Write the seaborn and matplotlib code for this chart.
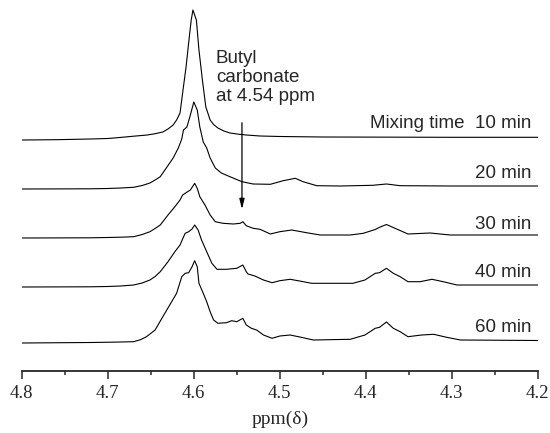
import pandas as pd
import matplotlib
matplotlib.use("Agg")
import matplotlib.pyplot as plt
from matplotlib.ticker import MultipleLocator
import seaborn as sns

# spectra: ppm and height above each trace's baseline
ppm_10 = [4.800, 4.760, 4.720, 4.700, 4.690, 4.670, 4.654, 4.645, 4.636, 4.630, 4.624,
          4.620, 4.616, 4.613, 4.609, 4.606, 4.603, 4.601, 4.597, 4.594, 4.590, 4.586,
          4.581, 4.577, 4.572, 4.565, 4.558, 4.548, 4.539, 4.523, 4.500, 4.450, 4.300,
          4.200]
int_10 = [0, 0.3, 1, 1.5, 2.2, 3.8, 5, 6.3, 8, 11, 15,
          20, 27, 47, 73, 97, 120, 130, 120, 90, 60, 33,
          20, 15.5, 12, 9, 7, 5.8, 5, 4, 3.5, 3, 2.7,
          2.7]

ppm_20 = [4.800, 4.720, 4.700, 4.685, 4.670, 4.660, 4.651, 4.645, 4.639, 4.632, 4.624,
          4.618, 4.614, 4.612, 4.608, 4.604, 4.600, 4.596, 4.593, 4.589, 4.585, 4.581,
          4.575, 4.568, 4.558, 4.544, 4.531, 4.511, 4.496, 4.482, 4.473, 4.457, 4.430,
          4.392, 4.376, 4.360, 4.300, 4.200]
int_20 = [0, 0.2, 0.5, 1, 1.7, 3.5, 6, 9, 12.3, 21, 31,
          41, 50, 59, 62, 74, 87, 79, 62, 47, 41, 31,
          21, 16, 12.3, 7.3, 5, 4.7, 8.3, 10.7, 7.3, 3.3, 3,
          3.7, 5, 3.3, 3, 3]

ppm_30 = [4.800, 4.720, 4.700, 4.685, 4.670, 4.660, 4.651, 4.645, 4.639, 4.630, 4.622,
          4.616, 4.613, 4.609, 4.604, 4.601, 4.599, 4.596, 4.593, 4.587, 4.581, 4.575,
          4.566, 4.554, 4.546, 4.543, 4.539, 4.531, 4.523, 4.511, 4.500, 4.486, 4.469,
          4.453, 4.418, 4.403, 4.389, 4.384, 4.376, 4.366, 4.351, 4.325, 4.302, 4.267,
          4.200]
int_30 = [0, 0.2, 0.5, 0.8, 1.3, 3.5, 6.3, 9.5, 13, 23, 31.3,
          38, 43, 45.3, 48, 52, 54.7, 49.7, 41.3, 33, 23, 16.3,
          14.7, 14, 14.7, 16.3, 12.3, 9.7, 8.7, 4, 6.3, 8, 5.3,
          3, 3, 4.7, 8.5, 10.7, 13.5, 9.7, 4, 5, 3, 3,
          3]

ppm_40 = [4.800, 4.720, 4.700, 4.685, 4.670, 4.660, 4.651, 4.645, 4.639, 4.630, 4.622,
          4.616, 4.612, 4.610, 4.606, 4.602, 4.599, 4.595, 4.591, 4.585, 4.579, 4.573,
          4.562, 4.550, 4.543, 4.539, 4.537, 4.529, 4.519, 4.509, 4.500, 4.488, 4.477,
          4.463, 4.415, 4.401, 4.389, 4.384, 4.376, 4.368, 4.360, 4.351, 4.337, 4.323,
          4.310, 4.294, 4.200]
int_40 = [0, 0.2, 0.5, 1, 2, 4, 7, 10.5, 15.3, 25.3, 35.3,
          42, 50, 53.7, 55.3, 58, 62, 57, 47, 35.3, 23.7, 17.7,
          17.7, 18.7, 22, 15.3, 13, 11, 7, 4.3, 6.3, 7.7, 6,
          3.7, 3.7, 7, 13.7, 14.3, 18.7, 13.7, 10.3, 5.3, 5.3, 7.7,
          5.3, 2, 2]

ppm_60 = [4.800, 4.720, 4.690, 4.670, 4.662, 4.655, 4.645, 4.636, 4.628, 4.620, 4.614,
          4.610, 4.606, 4.602, 4.599, 4.596, 4.594, 4.589, 4.585, 4.581, 4.577, 4.572,
          4.562, 4.556, 4.550, 4.543, 4.539, 4.533, 4.527, 4.519, 4.509, 4.500, 4.488,
          4.475, 4.461, 4.418, 4.401, 4.389, 4.384, 4.376, 4.368, 4.360, 4.351, 4.335,
          4.321, 4.306, 4.290, 4.200]
int_60 = [0, 0.5, 0.9, 1.3, 3.3, 6.3, 13, 26.3, 38, 49.7, 66.3,
          69.7, 70.3, 76.3, 82.3, 76.3, 59.7, 49.7, 41.3, 31.3, 23, 19.7,
          20.3, 22.3, 21.3, 24.7, 18, 14.7, 13, 8, 4.7, 7, 8,
          5.7, 3, 3.7, 8, 14.7, 15.7, 21, 14.7, 11.3, 6.3, 8,
          8.7, 5.7, 3, 2.5]

labels = ["Mixing time  10 min", "20 min", "30 min", "40 min", "60 min"]
offsets = [231, 182, 133, 84, 28]
label_y = [243, 192.7, 142, 93.7, 38.7]

spectra = [(ppm_10, int_10), (ppm_20, int_20), (ppm_30, int_30),
           (ppm_40, int_40), (ppm_60, int_60)]

rows = []
for i, (p, v) in enumerate(spectra):
    for x, y in zip(p, v):
        rows.append({"ppm": x, "y": y + offsets[i], "trace": labels[i]})
df = pd.DataFrame(rows)

sns.set_style("ticks")
plt.rcParams["font.family"] = ["Liberation Sans", "DejaVu Sans"]

fig = plt.figure(figsize=(5.5, 4.33), dpi=100)
ax = fig.add_axes([21.8 / 550, 62 / 433, 516 / 550, 371 / 433])

sns.lineplot(data=df, x="ppm", y="y", hue="trace", palette=["black"] * 5,
             estimator=None, legend=False, linewidth=0.8, ax=ax)

for lab, ly in zip(labels, label_y):
    ax.text(4.207, ly, lab, ha="right", va="baseline", fontsize=13.5)

ax.text(4.5742, 321, "Butyl\ncarbonate\nat 4.54 ppm", ha="left", va="top",
        fontsize=13.5, linespacing=1.15)
ax.annotate("", xy=(4.544, 159), xytext=(4.544, 251),
            arrowprops=dict(arrowstyle="-|>,head_width=0.15,head_length=0.6",
                            color="black", lw=0.9, mutation_scale=10))

ax.set_xlim(4.8, 4.2)
ax.set_ylim(0, 371)
sns.despine(ax=ax, left=True)
ax.set_yticks([])
ax.set_ylabel("")
ax.spines["bottom"].set_linewidth(1.3)
ax.xaxis.set_major_locator(MultipleLocator(0.1))
ax.xaxis.set_minor_locator(MultipleLocator(0.05))
ax.tick_params(axis="x", which="major", direction="out", length=6, width=1.1, pad=4)
ax.tick_params(axis="x", which="minor", direction="out", length=3, width=1.1)
ax.set_xticks(ax.get_xticks())
ax.set_xticklabels([f"{t:.1f}" for t in ax.get_xticks()],
                   fontfamily="Liberation Serif", fontsize=13.5)
ax.set_xlim(4.8, 4.2)
ax.set_xlabel("ppm(δ)", fontfamily="Liberation Serif", fontsize=14, labelpad=6)

fig.savefig("out.png", dpi=100)
